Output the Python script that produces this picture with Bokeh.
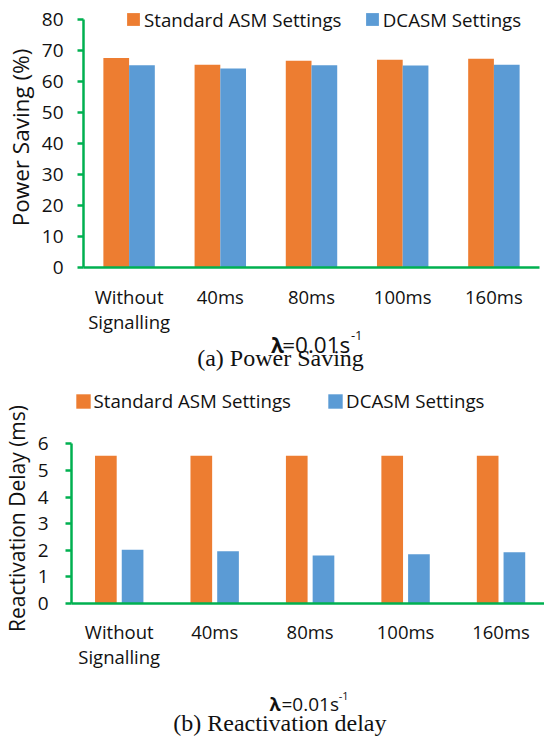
import math
from bokeh.plotting import figure
from bokeh.models import (Range1d, FixedTicker, Legend, LegendItem, Label,
                          ColumnDataSource, LinearAxis)
from bokeh.layouts import column
from bokeh.transform import dodge
from bokeh.embed import file_html
from bokeh.resources import INLINE

# ---------------- data ----------------
categories = ["Without\nSignalling", "40ms", "80ms", "100ms", "160ms"]
series_names = ["Standard ASM Settings", "DCASM Settings"]
power_standard = [67.7, 65.5, 66.8, 67.1, 67.4]
power_dcasm = [65.3, 64.3, 65.3, 65.2, 65.5]
delay_standard = [5.55, 5.55, 5.55, 5.55, 5.55]
delay_dcasm = [2.02, 1.96, 1.80, 1.85, 1.93]
power_ticks = [0, 10, 20, 30, 40, 50, 60, 70, 80]
delay_ticks = [0, 1, 2, 3, 4, 5, 6]
power_ylabel = "Power Saving (%)"
delay_ylabel = "Reactivation Delay (ms)"
lambda_sym = "λ"
lambda_val = "=0.01s"
lambda_exp = "-1"
caption_a = "(a) Power Saving"
caption_b = "(b) Reactivation delay"

# ---------------- style ----------------
ORANGE = "#ED7D31"
BLUE = "#5B9BD5"
GREEN = "#00B050"
TXT = "#111111"
FONT = "Open Sans"
SERIF = "Liberation Serif"
W = 544

positions = [i + 0.5 for i in range(len(categories))]


class Chart:
    """A figure whose frame is the whole canvas; X/Y map canvas pixels to data."""

    def __init__(self, height, x0_px, x_step, y0_px, y_unit):
        self.x0, self.xs, self.y0, self.yu = x0_px, x_step, y0_px, y_unit
        self.p = figure(width=W, height=height,
                        x_range=Range1d(self.X(0), self.X(W)),
                        y_range=Range1d(self.Y(height), self.Y(0)),
                        x_axis_location=None, y_axis_location=None,
                        output_backend="svg", toolbar_location=None,
                        min_border_left=0, min_border_right=0,
                        min_border_top=0, min_border_bottom=0)
        self.p.outline_line_color = None
        self.p.grid.visible = False

    def X(self, px):
        return (px - self.x0) / self.xs

    def Y(self, py):
        return (self.y0 - py) / self.yu


def add_axes(c, yticks, ybounds, xbound, ytick_standoff, xtick_standoff):
    p = c.p
    ya = LinearAxis(fixed_location=0, bounds=ybounds, ticker=FixedTicker(ticks=yticks))
    ya.axis_line_color = GREEN
    ya.axis_line_width = 2.5
    ya.major_tick_line_color = GREEN
    ya.major_tick_line_width = 2.5
    ya.major_tick_out = 6
    ya.major_tick_in = 0
    ya.minor_tick_line_color = None
    ya.major_label_text_font = FONT
    ya.major_label_text_font_size = "19px"
    ya.major_label_text_color = TXT
    ya.major_label_standoff = ytick_standoff
    p.add_layout(ya, "left")
    xa = LinearAxis(fixed_location=0, bounds=(0, xbound),
                    ticker=FixedTicker(ticks=positions))
    xa.major_label_overrides = {pos: cat for pos, cat in zip(positions, categories)}
    xa.axis_line_color = GREEN
    xa.axis_line_width = 2.5
    xa.major_tick_line_color = None
    xa.major_tick_out = 0
    xa.major_tick_in = 0
    xa.minor_tick_line_color = None
    xa.major_label_text_font = FONT
    xa.major_label_text_font_size = "18.5px"
    xa.major_label_text_color = TXT
    xa.major_label_standoff = xtick_standoff
    xa.major_label_text_line_height = 1.03
    p.add_layout(xa, "below")


def add_legend(p, renderer, label, loc, glyph, standoff):
    p.add_layout(Legend(items=[LegendItem(label=label, renderers=[renderer])],
                        location=loc, orientation="horizontal",
                        padding=0, margin=0, spacing=0,
                        border_line_color=None, background_fill_alpha=0,
                        glyph_width=glyph, glyph_height=glyph,
                        label_standoff=standoff, label_height=20,
                        label_text_font=FONT, label_text_font_size="18.7px",
                        label_text_color=TXT))


def add_text(c, px, py, text, font, size, **kw):
    kw.setdefault("text_baseline", "alphabetic")
    c.p.add_layout(Label(x=c.X(px), y=c.Y(py), text=text, text_font=font,
                         text_font_size=size, text_color=TXT, **kw))


# ================= (a) Power saving  (canvas rows 0..380) =================
HA = 380
ca = Chart(HA, x0_px=83, x_step=91.2, y0_px=267, y_unit=(267 - 19.3) / 80)
p1 = ca.p
src1 = ColumnDataSource(dict(x=positions, std=power_standard, dc=power_dcasm))
r1a = p1.vbar(x=dodge("x", -0.141, range=p1.x_range), top="std", width=0.282,
              source=src1, fill_color=ORANGE, line_color=None)
r1b = p1.vbar(x=dodge("x", 0.141, range=p1.x_range), top="dc", width=0.282,
              source=src1, fill_color=BLUE, line_color=None)
add_axes(ca, power_ticks, (0, 80), 5, 14, 16)
add_legend(p1, r1a, series_names[0], (125, HA - 31.7), 16, 3)
add_legend(p1, r1b, series_names[1], (363.8, HA - 31.7), 16, 3)

add_text(ca, 19.5, 137, power_ylabel, FONT, "22.5px", angle=math.pi / 2,
         text_align="center", text_baseline="middle")
add_text(ca, 270.6, 344, lambda_sym, FONT, "21px", text_font_style="bold")
add_text(ca, 281.7, 344, lambda_val, FONT, "22.5px")
add_text(ca, 350.4, 335, lambda_exp, FONT, "13px")
add_text(ca, 280, 357.5, caption_a, SERIF, "24px", text_align="center")

# ================= (b) Reactivation delay (canvas rows 380..740) =================
TOPB = HA
HB = 740 - HA
cb = Chart(HB, x0_px=71, x_step=95.45, y0_px=603 - TOPB, y_unit=(603 - 443.3) / 6)
p2 = cb.p
src2 = ColumnDataSource(dict(x=positions, std=delay_standard, dc=delay_dcasm))
r2a = p2.vbar(x=dodge("x", -0.14, range=p2.x_range), top="std", width=0.227,
              source=src2, fill_color=ORANGE, line_color=None)
r2b = p2.vbar(x=dodge("x", 0.14, range=p2.x_range), top="dc", width=0.227,
              source=src2, fill_color=BLUE, line_color=None)
add_axes(cb, delay_ticks, (0, 6), cb.X(W), 17, 15)
add_legend(p2, r2a, series_names[0], (73.5, HB - (413 - TOPB)), 18, 2)
add_legend(p2, r2b, series_names[1], (326.1, HB - (413 - TOPB)), 18, 2)

add_text(cb, 16, 518 - TOPB, delay_ylabel, FONT, "21px", angle=math.pi / 2,
         text_align="center", text_baseline="middle")
add_text(cb, 269, 703 - TOPB, lambda_sym, FONT, "18px", text_font_style="bold")
add_text(cb, 281, 703 - TOPB, lambda_val, FONT, "19px")
add_text(cb, 338.3, 695 - TOPB, lambda_exp, FONT, "11px")
add_text(cb, 279.4, 722 - TOPB, caption_b, SERIF, "24px", text_align="center")

layout = column(p1, p2, spacing=0)
open("out.html", "w").write(file_html(layout, INLINE))
